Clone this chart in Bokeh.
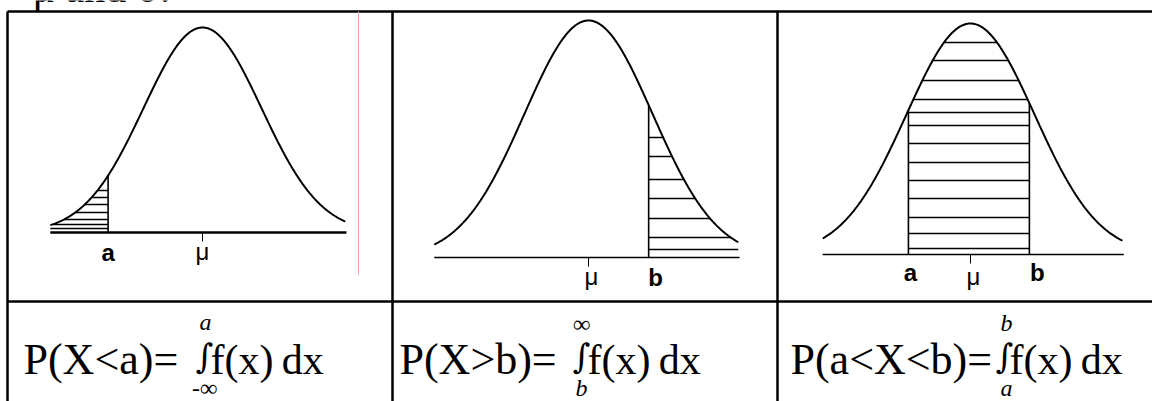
import numpy as np
from bokeh.plotting import figure
from bokeh.models import Range1d, ColumnDataSource
from bokeh.core.properties import value
from bokeh.embed import file_html
from bokeh.resources import INLINE

# ---------------- data (z = (x - mu) / sigma, h = density / peak density) ----------------
p1_domain = [-2.58, 2.42]
p1_a = -1.60
p1_hatch = [0.205, 0.171, 0.137, 0.098, 0.063, 0.039, 0.020]
p1_labels = ["a", "\u03bc"]

p2_domain = [-2.41, 2.34]
p2_b = 0.94
p2_hatch = [0.506, 0.426, 0.329, 0.249, 0.165, 0.084, 0.034]
p2_labels = ["\u03bc", "b"]

p3_domain = [-2.31, 2.375]
p3_a = -0.97
p3_b = 0.92
p3_hatch = [0.918, 0.840, 0.753, 0.671, 0.615, 0.558, 0.481, 0.398, 0.320, 0.242, 0.160, 0.091, 0.026]
p3_labels = ["a", "\u03bc", "b"]

heading = "\u03bc and \u03c3:"
formula_left = ["P(X<a)=", "P(X>b)=", "P(a<X<b)="]
formula_body = ["f(x)\u2009dx", "f(x)\u2009dx", "f(x)\u2009dx"]
upper_limits = ["a", "\u221e", "b"]
lower_limits = ["-\u221e", "b", "a"]

# ---------------- layout (screen pixels) ----------------
W, H = 1152, 401
p = figure(width=W, height=H, x_range=Range1d(0, W), y_range=Range1d(H, 0),
           output_backend="svg", toolbar_location=None, min_border=0,
           x_axis_type=None, y_axis_type=None)
p.grid.visible = False
p.outline_line_color = None
p.background_fill_color = "white"
p.border_fill_color = "white"

TXT_DY = -8  # empirical correction of text baseline placement

# heading line above the table (only its lowest part is visible)
p.text(x=[32], y=[-13], text=[heading], text_font=value("Liberation Serif"),
       text_font_size=value("42px"), text_baseline="alphabetic", text_color="black")

# table frame
p.segment(x0=[7, 7, 7, 392, 777], y0=[11, 301, 11, 11, 11],
          x1=[1160, 1160, 7, 392, 777], y1=[11, 301, 410, 410, 410],
          line_color="black", line_width=2.5)
# stray pink rule in the first picture
p.segment(x0=[358], y0=[11], x1=[358], y1=[274], line_color="#f5a3a8", line_width=1)


def curve(z):
    return np.exp(-0.5 * np.asarray(z, dtype=float) ** 2)


def panel(mu_px, sig_px, base_y, peak_y, domain, lo, hi, hatch, bounds,
          labels, label_pos, label_dx, label_dy, base_w):
    sub = p.subplot(x_source=Range1d(-1, 1), y_source=Range1d(0, 1),
                    x_target=Range1d(mu_px - sig_px, mu_px + sig_px),
                    y_target=Range1d(base_y, peak_y))
    z = np.linspace(domain[0], domain[1], 400)
    sub.line(x=z, y=curve(z), line_color="black", line_width=2)
    # baseline
    sub.segment(x0=[domain[0]], y0=[0], x1=[domain[1] + 0.02], y1=[0],
                line_color="black", line_width=base_w)
    # tick under mu
    tick = 9.0 / (base_y - peak_y)
    sub.segment(x0=[0], y0=[0], x1=[0], y1=[-tick], line_color="black", line_width=1)
    # boundary lines
    bz = np.asarray(bounds, dtype=float)
    sub.segment(x0=bz, y0=np.zeros(len(bz)), x1=bz, y1=curve(bz),
                line_color="black", line_width=1.6)
    # hatching
    hv = np.asarray(hatch, dtype=float)
    zc = np.sqrt(-2.0 * np.log(hv))
    left = np.maximum(np.maximum(lo, -zc), domain[0])
    right = np.minimum(np.minimum(hi, zc), domain[1])
    sub.segment(x0=left, y0=hv, x1=right, y1=hv, line_color="black", line_width=1.5)
    # labels
    for t, xpos, dx, dy in zip(labels, label_pos, label_dx, label_dy):
        bold = t in ("a", "b")
        sub.text(x=[xpos], y=[0], text=[t], x_offset=dx, y_offset=dy + TXT_DY,
                 text_font=value("Liberation Sans"), text_font_size=value("24px"),
                 text_font_style="bold" if bold else "normal",
                 text_align="center", text_baseline="alphabetic", text_color="black")


panel(202, 59, 232, 27, p1_domain, p1_domain[0], p1_a, p1_hatch, [p1_a],
      p1_labels, [p1_a, 0.0], [0, 0], [28, 27], 2.5)
panel(588, 64, 257, 20, p2_domain, p2_b, p2_domain[1], p2_hatch, [p2_b],
      p2_labels, [0.0, p2_b], [3, 7], [27, 28], 1.6)
panel(970, 64, 254, 23, p3_domain, p3_a, p3_b, p3_hatch, [p3_a, p3_b],
      p3_labels, [p3_a, 0.0, p3_b], [2, 3, 8], [26, 30, 26], 1.6)

# ---------------- formulas ----------------
serif = value("Liberation Serif")
BASE = 367 + TXT_DY
src_left = ColumnDataSource(dict(x=[23, 399, 790], y=[BASE] * 3, text=formula_left))
p.text(x="x", y="y", text="text", source=src_left, text_font=serif,
       text_font_size=value("44px"), text_baseline="alphabetic", text_color="black")
src_int = ColumnDataSource(dict(x=[204, 581, 1004], y=[363 + TXT_DY] * 3, text=["\u222b"] * 3))
p.text(x="x", y="y", text="text", source=src_int, text_font=value("DejaVu Serif"),
       text_font_size=value("34px"), text_align="center", text_baseline="alphabetic",
       text_color="black")
src_body = ColumnDataSource(dict(x=[210, 587, 1009], y=[BASE] * 3, text=formula_body))
p.text(x="x", y="y", text="text", source=src_body, text_font=serif,
       text_font_size=value("42px"), text_baseline="alphabetic", text_color="black")
src_up = ColumnDataSource(dict(x=[205, 581, 1006], y=[329 + TXT_DY, 331 + TXT_DY, 330 + TXT_DY],
                               text=upper_limits))
p.text(x="x", y="y", text="text", source=src_up, text_font=serif, text_font_style="italic",
       text_font_size=value("24px"), text_align="center", text_baseline="alphabetic",
       text_color="black")
src_lo = ColumnDataSource(dict(x=[204, 581, 1006], y=[395 + TXT_DY, 395 + TXT_DY, 395 + TXT_DY],
                               text=lower_limits))
p.text(x="x", y="y", text="text", source=src_lo, text_font=serif, text_font_style="italic",
       text_font_size=value("24px"), text_align="center", text_baseline="alphabetic",
       text_color="black")

open("out.html", "w").write(file_html(p, INLINE))
